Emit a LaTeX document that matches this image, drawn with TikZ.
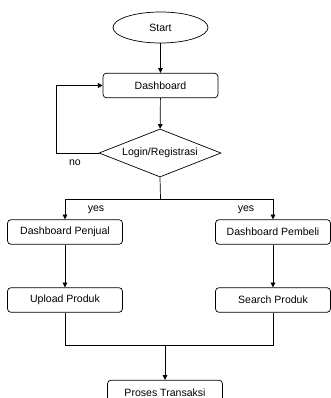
\documentclass[tikz,border=0pt]{standalone}
\usepackage{fontspec}
\setmainfont{Liberation Sans}
\usetikzlibrary{shapes.geometric,arrows.meta}
\begin{document}
\begin{tikzpicture}[x=0.03cm,y=-0.03cm,line width=0.6pt,
  font=\fontsize{9}{10}\selectfont,
  >={Triangle[length=4pt,width=4pt]},
  box/.style={draw,rounded corners=3pt,minimum width=3.45cm,minimum height=0.74cm,inner sep=0pt},
  decision/.style={draw,diamond,aspect=2.5,inner sep=0pt,minimum width=3.66cm,minimum height=1.44cm},
  terminal/.style={draw,ellipse,minimum width=2.85cm,minimum height=0.93cm,inner sep=0pt}]
\useasboundingbox (0,0) rectangle (330,398);

\node[terminal] (start) at (160.5,27.5) {Start};
\node[box] (dash) at (160.5,85.5) {Dashboard};
\node[decision] (login) at (160,153) {Login/Registrasi};
\node[box] (penjual) at (65,232) {Dashboard Penjual};
\node[box] (pembeli) at (273,232) {Dashboard Pembeli};
\node[box] (upload) at (65,300) {Upload Produk};
\node[box] (search) at (273,300) {Search Produk};
\node[box] (proses) at (165,392.5) {Proses Transaksi};

\coordinate (loop) at (56,153);
\coordinate (split) at (160.5,199);
\coordinate (merge) at (165,345);

\draw[->] (start) -- (dash);
\draw[->] (dash) -- (login);
\draw[->] (login.west) -- (loop) |- (dash.west);
\node (no) at (75,163) {no};
\draw (login.south) -- (split);
\draw[->] (split) -| (penjual);
\draw[->] (split) -| (pembeli);
\node (yes1) at (96,210) {yes};
\node (yes2) at (246,210) {yes};
\draw[->] (penjual) -- (upload);
\draw[->] (pembeli) -- (search);
\draw (upload) |- (merge);
\draw (search) |- (merge);
\draw[->] (merge) -- (proses);
\end{tikzpicture}
\end{document}
